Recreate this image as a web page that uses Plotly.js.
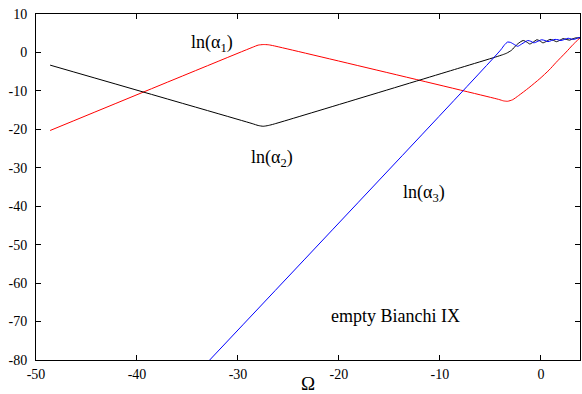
<!DOCTYPE html>
<html>
<head>
<meta charset="utf-8">
<script src="https://cdn.plot.ly/plotly-3.0.1.min.js"></script>
<style>html,body{margin:0;padding:0;background:#fff;} #chart{width:582px;height:394px;}</style>
</head>
<body>
<div id="chart"></div>
<script>
// black curve
const blackX = [-48.6, -28.6, -28.0, -27.5, -27.0, -26.4, -8.0, -4.5, -3.8, -3.4, -2.9, -2.4, -2.0, -1.75, -1.4, -1.1, -0.75, -0.4, -0.1, 0.2, 0.55, 0.9, 1.2, 1.55, 1.9, 2.2, 2.5, 2.85, 3.2, 3.5, 3.87];
const blackY = [-3.3, -18.5, -19.0, -19.2, -19.0, -18.6, -4.0, -1.2, -0.6, -0.2, 0.6, 2.0, 2.8, 3.1, 2.7, 2.2, 2.7, 3.3, 3.0, 2.5, 2.9, 3.4, 3.2, 2.8, 3.2, 3.6, 3.4, 3.2, 3.6, 3.8, 3.8];
// red curve
const redX = [-48.6, -28.6, -28.0, -27.5, -27.0, -26.4, -4.2, -3.7, -3.3, -2.8, -2.2, -1.2, -0.1, 0.8, 1.5, 2.5, 3.2, 3.87];
const redY = [-20.3, 1.3, 1.9, 2.05, 2.0, 1.7, -12.2, -12.6, -12.7, -12.3, -11.2, -9.2, -6.8, -4.6, -2.6, 0.1, 2.1, 3.8];
// blue curve
const blueX = [-32.8, -4.0, -3.6, -3.3, -3.0, -2.6, -2.3, -1.9, -1.3, -1.0, -0.7, -0.3, 0.07, 0.4, 0.7, 1.05, 1.4, 1.7, 2.0, 2.35, 2.7, 3.0, 3.3, 3.6, 3.87];
const blueY = [-80, 0.6, 2.0, 2.7, 2.6, 2.0, 1.6, 2.2, 3.1, 2.9, 2.5, 2.9, 3.3, 3.1, 2.8, 3.1, 3.4, 3.3, 3.1, 3.4, 3.7, 3.5, 3.4, 3.7, 3.9];

const xTickVals = [-50, -40, -30, -20, -10, 0];
const xTickText = ["-50", "-40", "-30", "-20", "-10", "0"];
const yTickVals = [10, 0, -10, -20, -30, -40, -50, -60, -70, -80];
const yTickText = ["10", "0", "-10", "-20", "-30", "-40", "-50", "-60", "-70", "-80"];

const labels = ["ln(α<sub>1</sub>)", "ln(α<sub>2</sub>)", "ln(α<sub>3</sub>)", "empty Bianchi IX"];
const labelX = [-32.6, -26.6, -11.6, -14.4];
const labelY = [2.3, -27.6, -36.8, -68.5];

const serif = "Liberation Serif, Times New Roman, serif";
const mk = (x, y, c) => ({x: x, y: y, type: "scatter", mode: "lines",
  line: {color: c, width: 1, shape: "spline", smoothing: 0.6}, hoverinfo: "skip"});

const data = [mk(redX, redY, "#ff0000"), mk(blackX, blackY, "#000000"), mk(blueX, blueY, "#0000ff")];

function axisBase() {
  return {showline: true, linecolor: "#000", linewidth: 1, mirror: "ticks",
    ticks: "inside", ticklen: 5, tickcolor: "#000", showgrid: false, zeroline: false,
    tickfont: {family: serif, size: 14, color: "#000"}};
}

const layout = {
  width: 582, height: 394,
  margin: {l: 36, r: 2, t: 14, b: 34},
  paper_bgcolor: "#fff", plot_bgcolor: "#fff",
  font: {family: serif, size: 14, color: "#000"},
  showlegend: false,
  xaxis: Object.assign(axisBase(), {range: [-50, 3.87], tickmode: "array",
    tickvals: xTickVals, ticktext: xTickText, ticklabelstandoff: 1,
    title: {text: "Ω", font: {family: serif, size: 19, color: "#000"}, standoff: 7}}),
  yaxis: Object.assign(axisBase(), {range: [-80, 10], tickmode: "array",
    tickvals: yTickVals, ticktext: yTickText, ticklabelstandoff: 5}),
  annotations: labels.map((t, i) => ({x: labelX[i], y: labelY[i], xref: "x", yref: "y",
    text: t, showarrow: false, font: {family: serif, size: 18, color: "#000"}}))
};

Plotly.newPlot("chart", data, layout, {staticPlot: true, displayModeBar: false});
</script>
</body>
</html>
